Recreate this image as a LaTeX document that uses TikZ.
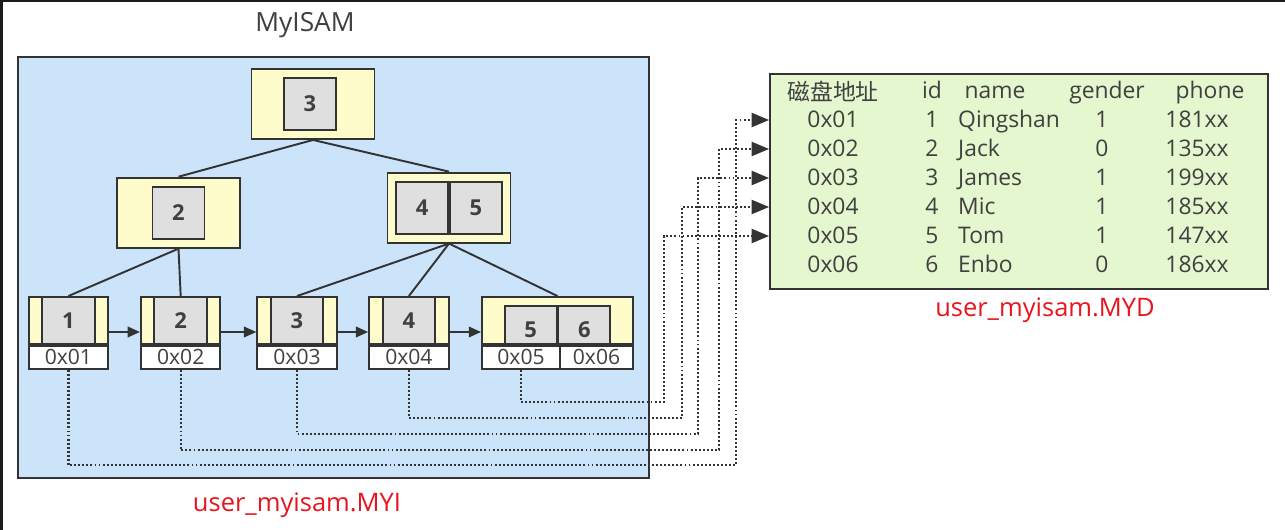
\documentclass[tikz,border=0pt]{standalone}
\usepackage{fontspec}
\setmainfont{Open Sans}
\newfontfamily\cjk{Noto Sans CJK SC}
\usetikzlibrary{arrows.meta,positioning,calc}
\definecolor{idxblue}{HTML}{CCE4FA}
\definecolor{pageyel}{HTML}{FEFCCB}
\definecolor{keygray}{HTML}{DFDFDF}
\definecolor{datgreen}{HTML}{E4F7CE}
\definecolor{lineclr}{HTML}{333333}
\definecolor{txtclr}{HTML}{404040}
\definecolor{fnred}{HTML}{E8141E}
\definecolor{frameclr}{HTML}{1B1B1B}

\begin{document}
\begin{tikzpicture}[x=0.02cm,y=-0.02cm,
  box/.style={draw=lineclr, line width=1.1pt, inner sep=0pt},
  page/.style={box, fill=pageyel},
  key/.style={box, fill=keygray, text=txtclr,
              font=\bfseries\fontsize{12.5}{12.5}\selectfont,
              minimum width=1.04cm, minimum height=1.04cm},
  leaf/.style={page, minimum width=1.59cm, minimum height=0.94cm},
  addr/.style={box, fill=white, anchor=north, text=txtclr,
               font=\fontsize{12}{12}\selectfont,
               minimum width=1.59cm, minimum height=0.46cm},
  edge/.style={draw=lineclr, line width=1.1pt},
  next/.style={edge, -{Triangle[length=7pt,width=6pt]}},
  ptr/.style={draw=lineclr, line width=1.3pt,
              dash pattern=on 1.1pt off 1.2pt,
              -{Triangle[length=10pt,width=8pt,fill=lineclr]}},
  cell/.style={text=txtclr, font=\fontsize{13}{13}\selectfont,
               text height=0.75em, text depth=0.22em},
  fname/.style={text=fnred, font=\fontsize{14.5}{14.5}\selectfont},
]
\useasboundingbox (0,0) rectangle (1285,530);
\fill[white] (0,0) rectangle (1285,530);
\fill[frameclr] (0,0) rectangle (1285,2);
\fill[frameclr] (0,0) rectangle (3,530);

% index file
\node[box, fill=idxblue, minimum width=12.62cm, minimum height=8.42cm] (myi) at (333.5,267.5) {};
\node[text=txtclr, font=\fontsize{15}{15}\selectfont] (title) at (305,25) {MyISAM};

% inner pages
\node[page, minimum width=2.46cm, minimum height=1.4cm] (root) at (313,104) {};
\node[key] (rootk) at (310,104) {3};
\node[page, minimum width=2.47cm, minimum height=1.4cm] (n2) at (178.5,212.7) {};
\node[key] (n2k) at (n2) {2};
\node[page, minimum width=2.46cm, minimum height=1.4cm] (n45) at (449,207.6) {};
\node[key, anchor=east] (n45k4) at (n45) {4};
\node[key, anchor=west] (n45k5) at (n45) {5};

% leaf pages
\foreach \n/\x in {1/68.4,2/180.7,3/297,4/408.9}{
  \node[leaf] (l\n) at (\x,320.5) {};
  \node[key, minimum width=1.05cm, minimum height=0.94cm] (l\n k) at (l\n) {\n};
  \node[addr] (l\n a) at (l\n.south) {0x0\n};
}
\node[leaf, minimum width=3.02cm] (l5) at (557.5,320.5) {};
\node[key, minimum height=0.76cm, anchor=south east] (l5k) at (l5.south) {\raisebox{-7.3pt}[0pt][0pt]{5}};
\node[key, minimum height=0.76cm, anchor=south west] (l6k) at (l5.south) {\raisebox{-7.3pt}[0pt][0pt]{6}};
\node[addr, anchor=north west, minimum width=1.56cm] (l5a) at (l5.south west) {0x05};
\node[addr, anchor=north east, minimum width=1.46cm] (l6a) at (l5.south east) {0x06};

% tree
\draw[edge] (root.south) -- (n2.north);
\draw[edge] (root.south) -- (n45.north);
\draw[edge] (n2.south) -- (l1.north);
\draw[edge] (n2.south) -- (l2.north);
\draw[edge] (n45.south) -- (l3.north);
\draw[edge] (n45.south) -- (l4.north);
\draw[edge] (n45.south) -- (l5.north);
\foreach \a/\b in {1/2,2/3,3/4,4/5}
  \draw[next] ([yshift=-0.23cm]l\a.east) -- ([yshift=-0.23cm]l\b.west);

% data file
\node[box, fill=datgreen, minimum width=9.96cm, minimum height=4.3cm] (myd) at (1019,181.5) {};
\node[cell] (h0) at (833,96) {\cjk 磁盘地址};
\node[cell] (h1) at (932,94) {id};
\node[cell] (h2) at (995,94) {name};
\node[cell] (h3) at (1107,94) {gender};
\node[cell] (h4) at (1210,94) {phone};
\foreach \i/\nm/\g/\ph [evaluate=\i as \y using 94+29*\i] in
  {1/Qingshan/1/181,2/Jack/0/135,3/James/1/199,4/Mic/1/185,5/Tom/1/147,6/Enbo/0/186}{
  \node[cell] (a\i) at (833,\y) {0x0\i};
  \node[cell] at (932,\y) {\i};
  \node[cell, anchor=west] at (952,\y) {\nm};
  \node[cell] at (1102,\y) {\g};
  \node[cell] at (1197,\y) {\ph xx};
}

% pointers
\foreach \i/\bx/\by in {1/736/465,2/719/450,3/698/434,4/682/418,5/664/402}{
  \coordinate (b\i) at (\bx,\by);
  \draw[ptr] (l\i a.south) |- (b\i) |- ([yshift=0.06cm]myd.west |- a\i);
}

\node[fname] (myilbl) at (297,505) {user\_myisam.MYI};
\node[fname] (mydlbl) at (1045,310) {user\_myisam.MYD};
\end{tikzpicture}
\end{document}
